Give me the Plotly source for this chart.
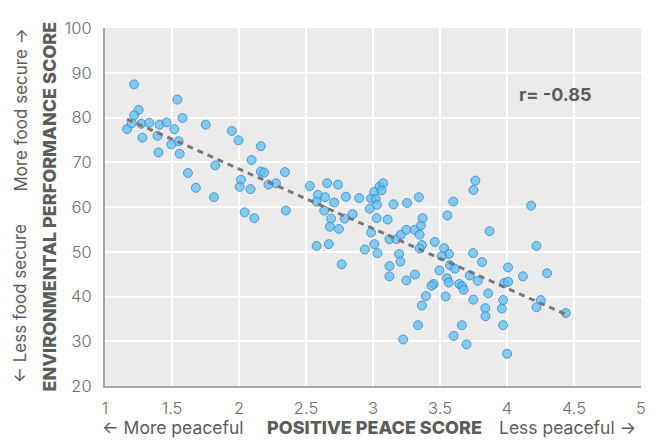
import numpy as np
import plotly.graph_objects as go

# Positive Peace score (x) and Environmental Performance score (y)
ppi = [1.217, 1.540, 1.251, 1.217, 1.165, 1.200, 1.271, 1.330, 1.407, 1.460,
       1.579, 1.517, 1.279, 1.392, 1.495, 1.549, 1.399, 1.557, 1.752, 1.946,
       1.996, 2.163, 2.094, 1.823, 1.619, 2.163, 2.188, 2.015, 2.005, 2.086,
       2.220, 2.276, 1.678, 1.813, 2.042, 2.343, 2.114, 2.350, 2.528, 2.658,
       2.739, 2.589, 2.643, 2.579, 2.710, 2.798, 2.897, 2.636, 2.687, 2.678,
       2.746, 2.789, 2.848, 2.579, 2.670, 2.766, 2.976, 2.986, 3.010, 3.050,
       3.075, 3.064, 3.020, 3.030, 3.027, 3.109, 3.153, 3.254, 2.986, 3.010,
       2.939, 3.033, 3.123, 3.175, 3.208, 3.249, 3.195, 3.205, 3.123, 3.123,
       3.249, 3.343, 3.599, 3.749, 3.764, 3.311, 3.348, 3.358, 3.370, 3.555,
       3.365, 3.348, 3.461, 3.530, 3.567, 3.513, 3.313, 3.574, 3.611, 3.496,
       3.722, 3.552, 3.565, 3.452, 3.437, 3.644, 3.666, 3.676, 3.395, 3.542,
       3.749, 3.747, 3.870, 4.220, 3.814, 4.008, 4.119, 4.299, 3.781, 3.979,
       4.008, 3.860, 3.971, 4.252, 4.220, 4.439, 3.365, 3.838, 3.962, 3.840,
       3.336, 3.663, 3.971, 3.225, 3.602, 3.698, 4.001, 4.180]
epi = [87.4, 84.0, 81.7, 80.5, 77.4, 78.7, 78.6, 78.8, 78.4, 78.9,
       79.9, 77.4, 75.5, 75.9, 74.0, 74.7, 72.2, 71.9, 78.4, 77.0,
       74.9, 73.6, 70.5, 69.3, 67.6, 67.9, 67.7, 66.1, 64.5, 64.0,
       65.0, 65.3, 64.3, 62.2, 58.8, 67.8, 57.5, 59.2, 64.7, 65.3,
       65.0, 62.7, 62.2, 61.2, 61.0, 62.3, 62.0, 59.2, 57.4, 55.6,
       55.1, 57.4, 58.4, 51.3, 51.7, 47.2, 59.6, 61.9, 63.4, 64.6,
       65.3, 63.7, 61.8, 60.5, 57.5, 57.2, 60.6, 60.9, 54.3, 51.7,
       50.5, 49.7, 52.8, 52.8, 53.8, 54.9, 49.5, 47.8, 46.8, 44.5,
       43.6, 62.2, 61.2, 63.8, 65.9, 54.9, 53.8, 55.9, 57.5, 58.1,
       51.5, 50.7, 52.2, 50.8, 49.5, 49.0, 44.9, 47.0, 46.2, 45.8,
       44.7, 44.1, 43.1, 42.8, 42.4, 42.8, 42.3, 41.5, 40.1, 40.0,
       39.3, 49.7, 54.6, 51.3, 47.7, 46.5, 44.5, 45.2, 43.5, 43.0,
       43.3, 40.7, 39.2, 39.2, 37.6, 36.3, 38.0, 37.4, 37.3, 35.6,
       33.6, 33.6, 33.6, 30.4, 31.2, 29.3, 27.2, 60.3]

x_ticks = [1, 1.5, 2, 2.5, 3, 3.5, 4, 4.5, 5]
x_tick_labels = ["1", "1.5", "2", "2.5", "3", "3.5", "4", "4.5", "5"]
y_ticks = [20, 30, 40, 50, 60, 70, 80, 90, 100]
r_label = "r= -0.85"

FONT = "Inter"
GREY = "#6e6e6e"
DARK = "#5c5c5c"

x = np.array(ppi)
y = np.array(epi)
slope, intercept = np.polyfit(x, y, 1)
fx = np.array([x.min(), x.max()])
fy = slope * fx + intercept

fig = go.Figure()
fig.add_trace(go.Scatter(
    x=ppi, y=epi, mode="markers",
    marker=dict(size=9, color="rgba(95,190,240,0.75)",
                line=dict(color="rgba(55,130,200,0.75)", width=1)),
    hoverinfo="x+y", showlegend=False))
fig.add_trace(go.Scatter(
    x=fx, y=fy, mode="lines",
    line=dict(color="#777777", width=3, dash="6px,5px"),
    hoverinfo="skip", showlegend=False))

tickfont = dict(family=FONT, size=16.5, color=GREY, weight=300)
fig.update_layout(
    width=648, height=435,
    margin=dict(l=97, r=10, t=10, b=57),
    paper_bgcolor="white", plot_bgcolor="#ebebeb",
    font=dict(family=FONT, size=16, color=GREY),
    xaxis=dict(range=[1, 5], tickvals=x_ticks, ticktext=x_tick_labels,
               showgrid=True, gridcolor="white", gridwidth=2,
               zeroline=False, showline=True, linecolor="#a8a8a8", linewidth=2,
               ticks="", ticklabelstandoff=6, ticklabeloverflow="allow", tickfont=tickfont),
    yaxis=dict(range=[20, 100], tickvals=y_ticks,
               showgrid=True, gridcolor="white", gridwidth=2,
               zeroline=False, showline=True, linecolor="#a8a8a8", linewidth=2,
               ticks="", ticklabelstandoff=8, ticklabeloverflow="allow", tickfont=tickfont),
)

ann = []
ann.append(dict(x=4.36, y=85.1, xref="x", yref="y", text="<b>" + r_label + "</b>",
                showarrow=False, font=dict(family=FONT, size=18, color=DARK, weight=700)))
# x-axis titles
ann.append(dict(x=-0.0092, y=-0.1168, xref="paper", yref="paper", xanchor="left", yanchor="middle",
                text="\u2190 More peaceful", showarrow=False,
                font=dict(family=FONT, size=17.5, color=DARK)))
ann.append(dict(x=0.5037, y=-0.1168, xref="paper", yref="paper", xanchor="center", yanchor="middle",
                text="POSITIVE PEACE SCORE", showarrow=False,
                font=dict(family=FONT, size=18, color=DARK, weight=800)))
ann.append(dict(x=0.9945, y=-0.1168, xref="paper", yref="paper", xanchor="right", yanchor="middle",
                text="Less peaceful \u2192", showarrow=False,
                font=dict(family=FONT, size=17.5, color=DARK)))
# y-axis titles
ann.append(dict(x=-0.1054, y=0.5, xref="paper", yref="paper", xanchor="center", yanchor="middle",
                text="ENVIRONMENTAL PERFORMANCE SCORE", textangle=-90, showarrow=False,
                font=dict(family=FONT, size=18, color=DARK, weight=800)))
ann.append(dict(x=-0.157, y=0.003, xref="paper", yref="paper", xanchor="center", yanchor="bottom",
                text="\u2190 Less food secure", textangle=-90, showarrow=False,
                font=dict(family=FONT, size=17, color=DARK)))
ann.append(dict(x=-0.157, y=1.005, xref="paper", yref="paper", xanchor="center", yanchor="top",
                text="More food secure \u2192", textangle=-90, showarrow=False,
                font=dict(family=FONT, size=17, color=DARK)))
fig.update_layout(annotations=ann)

fig.write_html("out.html")
